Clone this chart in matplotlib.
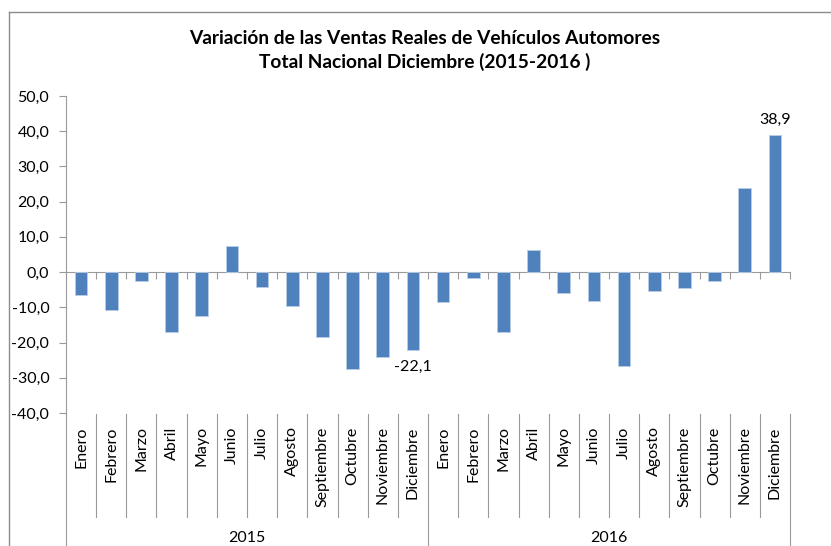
import numpy as np
import matplotlib.pyplot as plt
from matplotlib.lines import Line2D
from matplotlib.transforms import blended_transform_factory

# datos (variacion %)
meses = ["Enero", "Febrero", "Marzo", "Abril", "Mayo", "Junio", "Julio",
         "Agosto", "Septiembre", "Octubre", "Noviembre", "Diciembre"]
anios = ["2015", "2016"]
var_2015 = [-6.6, -10.8, -2.6, -17.0, -12.6, 7.5, -4.2, -9.6, -18.4, -27.4, -24.1, -22.1]
var_2016 = [-8.5, -1.8, -17.0, 6.4, -5.8, -8.3, -26.7, -5.5, -4.6, -2.5, 23.8, 38.9]
y_ticks = [-40, -30, -20, -10, 0, 10, 20, 30, 40, 50]

valores = var_2015 + var_2016
n = len(valores)

plt.rcParams['font.family'] = ['Lato', 'DejaVu Sans']
fs = 11.5

fig = plt.figure(figsize=(8.31, 5.46), dpi=100)
ax = fig.add_axes([0.0794, 0.2436, 0.8713, 0.5806])

x = np.arange(n)
ax.bar(x, valores, width=0.42, color="#4F81BD", edgecolor="#B9CDE5", linewidth=0.6, zorder=3)

ax.set_xlim(-0.5, n - 0.5)
ax.set_ylim(-40, 50)
ax.set_yticks(y_ticks)
ax.set_yticklabels([f"{v:.1f}".replace(".", ",") for v in y_ticks], fontsize=fs)

gris = "#9A9A9A"
for s in ["top", "right"]:
    ax.spines[s].set_visible(False)
ax.spines["left"].set_color(gris)
ax.spines["bottom"].set_position(("data", 0))
ax.spines["bottom"].set_color(gris)
ax.tick_params(axis="y", direction="out", length=5, color=gris, pad=7)
ax.set_xticks(np.arange(-0.5, n, 1.0))
ax.tick_params(axis="x", direction="out", length=5, color=gris, labelbottom=False)

# etiquetas de meses y anios (eje de dos niveles)
trans = blended_transform_factory(ax.transData, ax.transAxes)
for i in range(n):
    ax.text(i, -0.042, meses[i % 12], rotation=90, ha="center", va="top",
            fontsize=fs, transform=trans)
for j, a in enumerate(anios):
    ax.text(j * 12 + 5.5, -0.394, a, ha="center", va="center", fontsize=fs, transform=trans)

for k in range(n + 1):
    fondo = -0.42 if k % 12 == 0 else -0.328
    ax.add_line(Line2D([k - 0.5, k - 0.5], [-0.003, fondo], color=gris, lw=0.8,
                       transform=trans, clip_on=False))

# valores destacados
ax.annotate(f"{valores[11]:.1f}".replace(".", ","), (11, valores[11]), xytext=(0, -7),
            textcoords="offset points", ha="center", va="top", fontsize=fs)
ax.annotate(f"{valores[-1]:.1f}".replace(".", ","), (n - 1, valores[-1]), xytext=(0, 6),
            textcoords="offset points", ha="center", va="bottom", fontsize=fs)

fig.text(0.511, 0.907, "Variación de las Ventas Reales de Vehículos Automores\nTotal Nacional Diciembre (2015-2016 )",
         ha="center", va="center", fontsize=13.8, fontweight="bold", linespacing=1.4)

# marco del grafico
fig.add_artist(Line2D([9 / 831, 1.0], [1 - 12 / 546, 1 - 12 / 546], color="#8C8C8C", lw=1.0))
fig.add_artist(Line2D([9 / 831, 9 / 831], [0, 1 - 12 / 546], color="#8C8C8C", lw=1.0))

fig.savefig("out.png", dpi=100)
